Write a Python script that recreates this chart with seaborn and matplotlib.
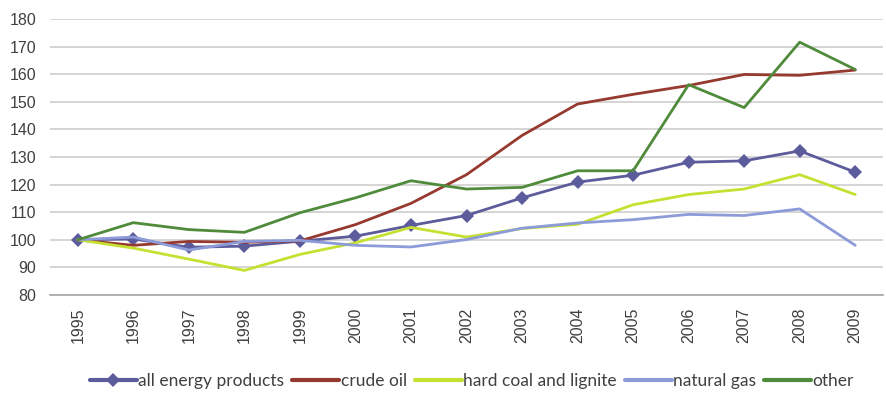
import matplotlib
matplotlib.use("Agg")
import matplotlib.pyplot as plt
from matplotlib.lines import Line2D
import numpy as np
import pandas as pd
import seaborn as sns

years = [str(y) for y in range(1995, 2010)]

all_energy = [100, 100.3, 97.3, 97.7, 99.5, 101.3, 105.2, 108.8, 115.2, 120.9, 123.4, 128.1, 128.6, 132.2, 124.5]
crude_oil = [100, 98.0, 99.4, 99.1, 99.6, 105.5, 113.2, 123.6, 137.8, 149.2, 152.7, 155.9, 159.9, 159.6, 161.5]
hard_coal = [100, 97.0, 93.0, 88.9, 94.7, 98.9, 104.5, 101.0, 104.1, 105.6, 112.7, 116.4, 118.4, 123.6, 116.4]
natural_gas = [100, 101.0, 96.3, 99.4, 99.8, 98.0, 97.4, 100.1, 104.2, 106.1, 107.3, 109.2, 108.8, 111.2, 98.0]
other = [100, 106.2, 103.7, 102.7, 109.8, 115.2, 121.4, 118.4, 119.0, 125.0, 125.0, 156.2, 147.9, 171.6, 161.7]

series_names = ["all energy products", "crude oil", "hard coal and lignite", "natural gas", "other"]
series_values = [all_energy, crude_oil, hard_coal, natural_gas, other]
colors = ["#5C5C9C", "#96392F", "#C6E032", "#8D9BD8", "#4F8B3A"]

df = pd.DataFrame({
    "year": years * len(series_names),
    "index": np.concatenate(series_values),
    "series": np.repeat(series_names, len(years)),
})

sns.set_theme(style="white")
plt.rcParams["font.family"] = ["Liberation Sans", "DejaVu Sans"]

fig = plt.figure(figsize=(8.87, 3.95), dpi=100)
ax = fig.add_axes([50 / 887, 1 - 295 / 395, 833 / 887, 276 / 395])

palette = dict(zip(series_names, colors))
sns.lineplot(data=df, x="year", y="index", hue="series", palette=palette,
             sort=False, linewidth=2.0, legend=False, ax=ax)

# diamonds on the aggregate series
ax.lines[0].set_marker("D")
ax.lines[0].set_markersize(7)
ax.lines[0].set_markeredgewidth(0)
for ln in ax.lines:
    ln.set_zorder(3)

ax.set_xlim(-0.5, len(years) - 0.5)
ax.set_ylim(80, 180)
ax.set_yticks(range(80, 181, 10))
ax.yaxis.grid(True, color="#D2D2D2", linewidth=1.3)
ax.set_axisbelow(True)
ax.set_xlabel("")
ax.set_ylabel("")

for side in ["left", "right", "top"]:
    ax.spines[side].set_visible(False)
ax.spines["bottom"].set_color("#A6A6A6")
ax.spines["bottom"].set_linewidth(1.2)

ax.set_xticks(range(len(years)))
ax.set_xticklabels(years, rotation=90)
ax.set_xticks(np.arange(-0.5, len(years), 1), minor=True)
ax.tick_params(axis="x", which="major", length=0, pad=9, labelsize=11.5, labelcolor="#404040")
ax.tick_params(axis="x", which="minor", length=7, width=1.2, color="#A6A6A6", direction="out")
ax.tick_params(axis="y", length=0, pad=10, labelsize=11.5, labelcolor="#404040")

handles = [Line2D([], [], color=c, linewidth=3.0) for c in colors]
handles[0] = Line2D([], [], color=colors[0], linewidth=3.0, marker="D", markersize=7, markeredgewidth=0)
fig.legend(handles, series_names, loc="center", bbox_to_anchor=(0.532, 0.035), ncol=5,
           frameon=False, handlelength=2.7, handletextpad=0.1, columnspacing=0.45,
           prop={"family": ["Lato", "DejaVu Sans"], "size": 12.5},
           labelcolor="#404040")

fig.savefig("out.png", dpi=100)
